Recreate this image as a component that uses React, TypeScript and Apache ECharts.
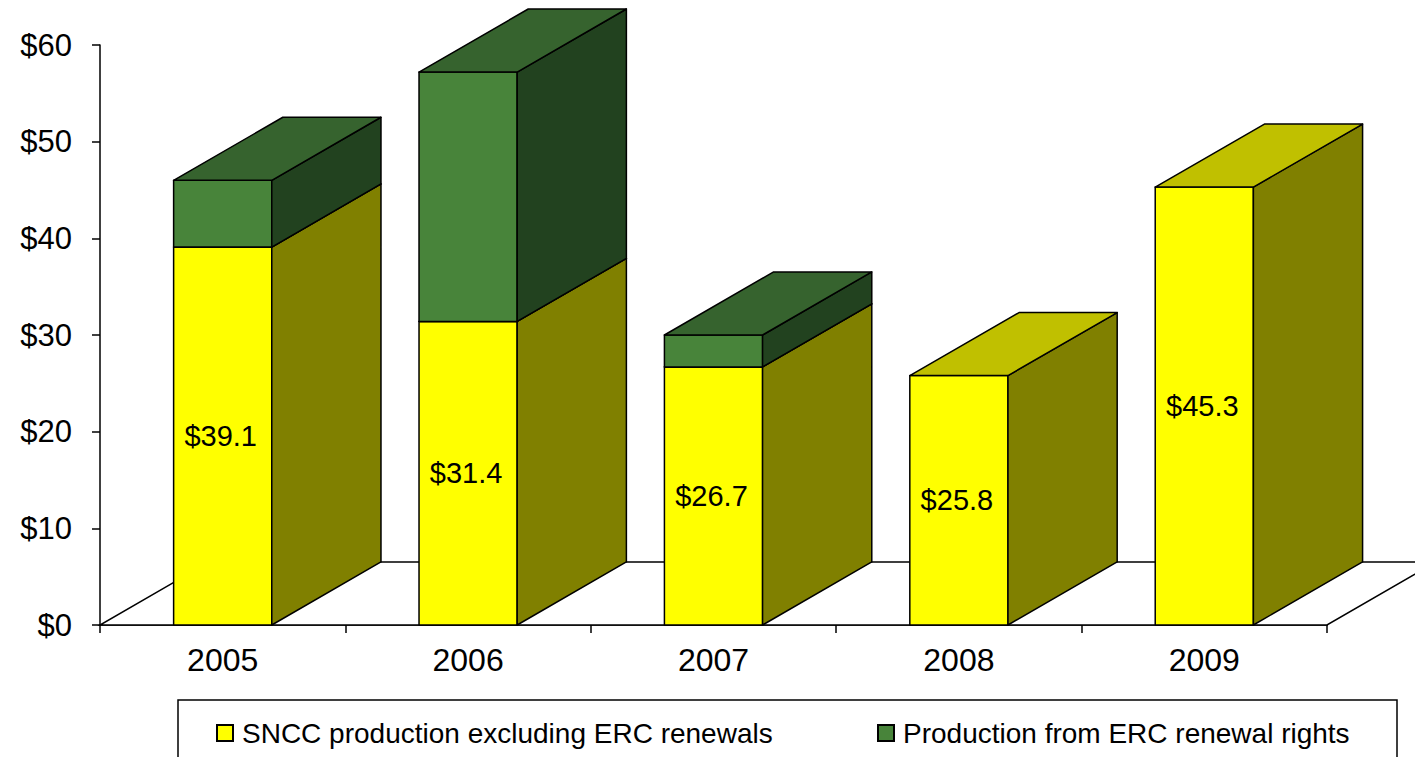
import React, { useEffect, useRef } from "react";
import * as echarts from "echarts";

const categories = ["2005", "2006", "2007", "2008", "2009"];
const snccValues = [39.1, 31.4, 26.7, 25.8, 45.3];
const ercValues = [6.9, 25.8, 3.3, 0, 0];
const yTicks = { min: 0, max: 60, interval: 10 };

const SNCC_NAME = "SNCC production excluding ERC renewals";
const ERC_NAME = "Production from ERC renewal rights";

const FONT = "'Liberation Sans', Arial, sans-serif";

const colors = {
  yellow: { front: "#FFFF00", side: "#808000", top: "#C0C000" },
  green: { front: "#48843A", side: "#22421F", top: "#36632E" },
};

function makeBarRenderer(pal: { front: string; side: string; top: string }, withLabel: boolean) {
  return (params: any, api: any) => {
    const x = api.value(0);
    const y0 = api.value(1);
    const y1 = api.value(2);
    const band = api.size([1, 0])[0];
    const w = band * 0.4;
    const dx = band * 0.445;
    const dy = -band * 0.257;
    const pb = api.coord([x, y0]);
    const pt = api.coord([x, y1]);
    const l = pb[0] - w / 2;
    const r = pb[0] + w / 2;
    const yb = pb[1];
    const yt = pt[1];
    const stroke = { stroke: "#000", lineWidth: 1.5, lineJoin: "round" };
    const children: any[] = [
      {
        type: "polygon",
        shape: { points: [[l, yb], [r, yb], [r, yt], [l, yt]] },
        style: { fill: pal.front, ...stroke },
      },
      {
        type: "polygon",
        shape: { points: [[r, yb], [r + dx, yb + dy], [r + dx, yt + dy], [r, yt]] },
        style: { fill: pal.side, ...stroke },
      },
      {
        type: "polygon",
        shape: { points: [[l, yt], [r, yt], [r + dx, yt + dy], [l + dx, yt + dy]] },
        style: { fill: pal.top, ...stroke },
      },
    ];
    if (withLabel) {
      children.push({
        type: "text",
        x: pb[0] - 2,
        y: (yb + yt) / 2,
        style: {
          text: "$" + (y1 - y0).toFixed(1),
          fill: "#000",
          font: `29px ${FONT}`,
          align: "center",
          verticalAlign: "middle",
        },
      });
    }
    return { type: "group", children };
  };
}

export default function App() {
  const ref = useRef<HTMLDivElement>(null);
  useEffect(() => {
    if (!ref.current) return;
    const chart = echarts.init(ref.current, undefined, { renderer: "svg" });

    const snccData = categories.map((_, i) => [i, 0, snccValues[i]]);
    const ercData = categories
      .map((_, i) => [i, snccValues[i], snccValues[i] + ercValues[i]])
      .filter((d, i) => ercValues[i] > 0);

    chart.setOption({
      animation: false,
      backgroundColor: "#fff",
      textStyle: { fontFamily: FONT },
      grid: { left: 100, right: 88, top: 45, bottom: 132, containLabel: false },
      xAxis: {
        type: "category",
        data: categories,
        boundaryGap: true,
        axisLine: { show: true, lineStyle: { color: "#000", width: 1.5 } },
        axisTick: { show: true, length: 8, alignWithLabel: false, lineStyle: { color: "#000", width: 1.5 } },
        axisLabel: { color: "#000", fontSize: 32, fontFamily: FONT, margin: 19 },
        splitLine: { show: false },
      },
      yAxis: {
        type: "value",
        min: yTicks.min,
        max: yTicks.max,
        interval: yTicks.interval,
        axisLine: { show: true, lineStyle: { color: "#000", width: 1.5 } },
        axisTick: { show: true, length: 8, lineStyle: { color: "#000", width: 1.5 } },
        axisLabel: {
          color: "#000",
          fontSize: 31,
          fontFamily: FONT,
          margin: 28,
          formatter: (v: number) => "$" + v,
        },
        splitLine: { show: false },
      },
      legend: [
        {
          left: 216,
          top: 719,
          padding: 0,
          icon: "rect",
          itemWidth: 16,
          itemHeight: 16,
          data: [SNCC_NAME],
          textStyle: { fontSize: 28, color: "#000", fontFamily: FONT, padding: [0, 0, 0, 4] },
        },
        {
          left: 877,
          top: 719,
          padding: 0,
          icon: "rect",
          itemWidth: 16,
          itemHeight: 16,
          data: [ERC_NAME],
          textStyle: { fontSize: 28, color: "#000", fontFamily: FONT, padding: [0, 0, 0, 4] },
        },
      ],
      graphic: [
        {
          type: "rect",
          shape: { x: 178, y: 700, width: 1219, height: 90 },
          style: { fill: "none", stroke: "#000", lineWidth: 1.5 },
          silent: true,
        },
      ],
      series: [
        {
          type: "custom",
          name: "floor",
          z: 1,
          silent: true,
          clip: false,
          data: [[0]],
          renderItem: (params: any, api: any) => {
            const band = api.size([1, 0])[0];
            const dx = band * 0.445;
            const dy = -band * 0.257;
            const a = api.coord([0, 0]);
            const b = api.coord([categories.length - 1, 0]);
            const l = a[0] - band / 2;
            const r = b[0] + band / 2;
            const y = a[1];
            return {
              type: "polygon",
              shape: { points: [[l, y], [r, y], [r + dx, y + dy], [l + dx, y + dy]] },
              style: { fill: "#fff", stroke: "#000", lineWidth: 1.5 },
            };
          },
        },
        {
          type: "custom",
          name: SNCC_NAME,
          z: 2,
          clip: false,
          itemStyle: { color: colors.yellow.front, borderColor: "#000", borderWidth: 1 },
          encode: { x: 0, y: 2 },
          data: snccData,
          renderItem: makeBarRenderer(colors.yellow, true),
        },
        {
          type: "custom",
          name: ERC_NAME,
          z: 3,
          clip: false,
          itemStyle: { color: colors.green.front, borderColor: "#000", borderWidth: 1 },
          encode: { x: 0, y: 2 },
          data: ercData,
          renderItem: makeBarRenderer(colors.green, false),
        },
      ],
    });
    return () => chart.dispose();
  }, []);
  return (
    <div
      ref={ref}
      style={{ position: "fixed", left: 0, top: 0, width: 1415, height: 757, background: "#fff" }}
    />
  );
}
